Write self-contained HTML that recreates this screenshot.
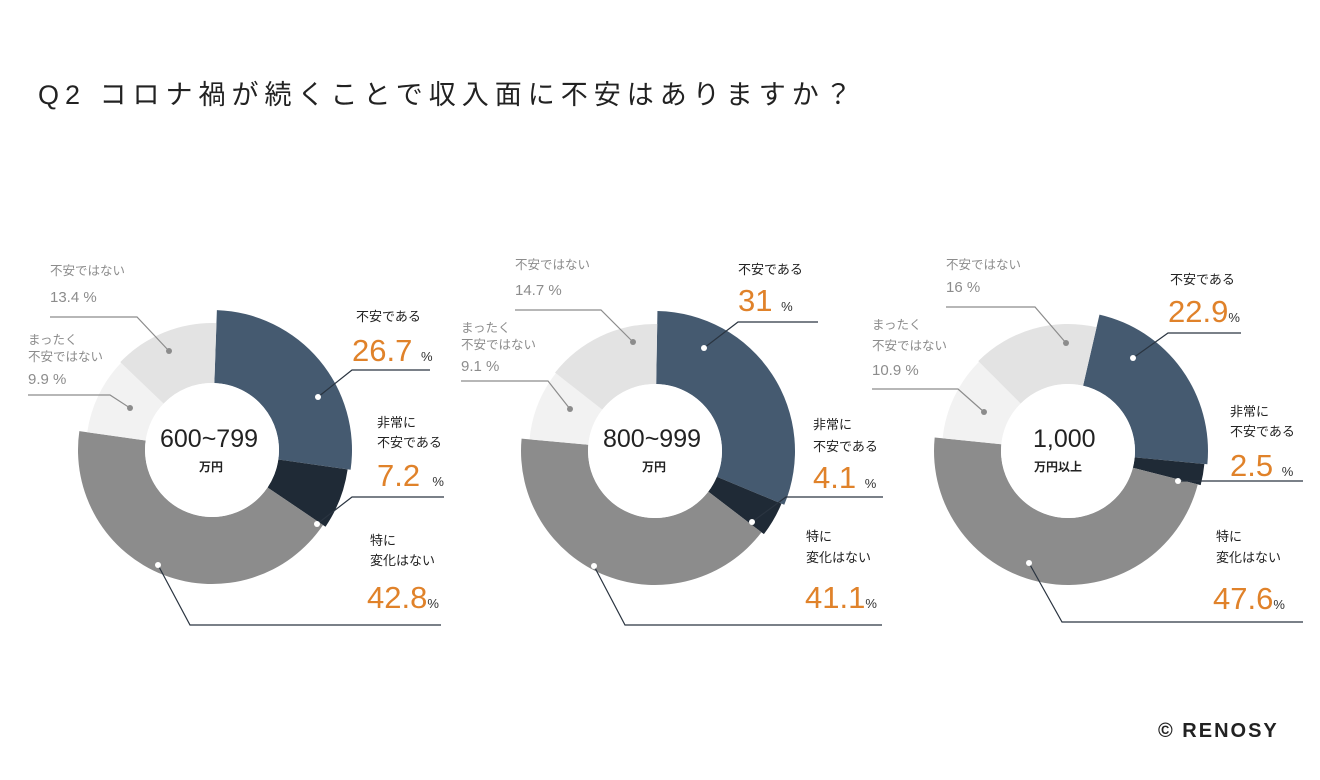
<!DOCTYPE html>
<html><head><meta charset="utf-8">
<style>
body{margin:0;width:1320px;height:780px;background:#fff;position:relative;overflow:hidden;font-family:"Liberation Sans","Noto Sans CJK JP",sans-serif;}
.t{position:absolute;white-space:nowrap;line-height:1;}
.g{color:#8c8c8c;font-size:12.5px;}
.gn{color:#8c8c8c;font-size:15px;}
.d{color:#222;font-size:13px;}
.o{color:#e0822a;font-size:31px;}
.o span{color:#333;font-size:13px;}
svg{position:absolute;left:0;top:0;}
</style></head><body>
<div class="t" style="left:38px;top:82px;font-size:27px;color:#222;letter-spacing:6px;">Q2 コロナ禍が続くことで収入面に不安はありますか？</div>
<svg id="s" width="1320" height="780"></svg>

<div class="t g" style="left:50px;top:265px">不安ではない</div>
<div class="t gn" style="left:50px;top:290px">13.4 %</div>
<div class="t g" style="left:28px;top:334px">まったく</div>
<div class="t g" style="left:28px;top:351px">不安ではない</div>
<div class="t gn" style="left:28px;top:372px">9.9 %</div>
<div class="t d" style="left:356px;top:310px">不安である</div>
<div class="t o" style="left:352px;top:335px">26.7 <span>%</span></div>
<div class="t d" style="left:377px;top:416px">非常に</div>
<div class="t d" style="left:377px;top:436px">不安である</div>
<div class="t o" style="left:377px;top:460px">7.2 <span>&nbsp;%</span></div>
<div class="t d" style="left:370px;top:534px">特に</div>
<div class="t d" style="left:370px;top:554px">変化はない</div>
<div class="t o" style="left:367px;top:582px">42.8<span>%</span></div>
<div class="t" style="left:160px;top:427px;font-size:25px;color:#222;">600~799</div>
<div class="t" style="left:199px;top:461px;font-size:12px;color:#222;font-weight:bold;">万円</div>

<div class="t g" style="left:515px;top:259px">不安ではない</div>
<div class="t gn" style="left:515px;top:283px">14.7 %</div>
<div class="t g" style="left:461px;top:322px">まったく</div>
<div class="t g" style="left:461px;top:339px">不安ではない</div>
<div class="t gn" style="left:461px;top:359px">9.1 %</div>
<div class="t d" style="left:738px;top:263px">不安である</div>
<div class="t o" style="left:738px;top:285px">31 <span>%</span></div>
<div class="t d" style="left:813px;top:418px">非常に</div>
<div class="t d" style="left:813px;top:440px">不安である</div>
<div class="t o" style="left:813px;top:462px">4.1 <span>%</span></div>
<div class="t d" style="left:806px;top:530px">特に</div>
<div class="t d" style="left:806px;top:551px">変化はない</div>
<div class="t o" style="left:805px;top:582px">41.1<span>%</span></div>
<div class="t" style="left:603px;top:427px;font-size:25px;color:#222;">800~999</div>
<div class="t" style="left:642px;top:461px;font-size:12px;color:#222;font-weight:bold;">万円</div>

<div class="t g" style="left:946px;top:259px">不安ではない</div>
<div class="t gn" style="left:946px;top:280px">16 %</div>
<div class="t g" style="left:872px;top:319px">まったく</div>
<div class="t g" style="left:872px;top:340px">不安ではない</div>
<div class="t gn" style="left:872px;top:363px">10.9 %</div>
<div class="t d" style="left:1170px;top:273px">不安である</div>
<div class="t o" style="left:1168px;top:296px">22.9<span>%</span></div>
<div class="t d" style="left:1230px;top:405px">非常に</div>
<div class="t d" style="left:1230px;top:425px">不安である</div>
<div class="t o" style="left:1230px;top:450px">2.5 <span>%</span></div>
<div class="t d" style="left:1216px;top:530px">特に</div>
<div class="t d" style="left:1216px;top:551px">変化はない</div>
<div class="t o" style="left:1213px;top:583px">47.6<span>%</span></div>
<div class="t" style="left:1033px;top:427px;font-size:25px;color:#222;">1,000</div>
<div class="t" style="left:1034px;top:461px;font-size:12px;color:#222;font-weight:bold;">万円以上</div>

<div class="t" style="left:1158px;top:721px;font-size:20px;color:#222;font-weight:bold;letter-spacing:2px;">© RENOSY</div>

<script>
var s=document.getElementById('s');
var cols=['#455a70','#1f2a36','#8c8c8c','#f2f2f2','#e3e3e3'];
var rs=[140,137,134,126,127];
function donut(cx,cy,vals,start){
  var a=start,h='';
  for(var i=0;i<5;i++){
    var a2=a+vals[i]*3.6,r=rs[i],ri=67;
    function p(ang,R){var t=(ang-90)*Math.PI/180;return (cx+R*Math.cos(t)).toFixed(2)+' '+(cy+R*Math.sin(t)).toFixed(2);}
    var lg=(a2-a)>180?1:0;
    h+='<path fill="'+cols[i]+'" d="M'+p(a,r)+' A'+r+' '+r+' 0 '+lg+' 1 '+p(a2,r)+' L'+p(a2,ri)+' A'+ri+' '+ri+' 0 '+lg+' 0 '+p(a,ri)+'Z"/>';
    a=a2;
  }
  h+='<circle cx="'+cx+'" cy="'+cy+'" r="67" fill="#fff"/>';
  return h;
}
function ln(pts,c,dot,dc){
  var h='<polyline fill="none" stroke="'+c+'" stroke-width="1.2" points="'+pts+'"/>';
  h+='<circle cx="'+dot[0]+'" cy="'+dot[1]+'" r="3" fill="'+dc+'"/>';return h;
}
var h='';
h+=donut(212,450,[26.7,7.2,42.8,9.9,13.4],2);
h+=donut(655,451,[31,4.1,41.1,9.1,14.7],1);
h+=donut(1068,451,[22.9,2.5,47.6,10.9,16.1],13);
var G='#8c8c8c',D='#2a3440';
h+=ln('50,317 137,317 169,351',G,[169,351],G);
h+=ln('28,395 110,395 130,408',G,[130,408],G);
h+=ln('430,370 352,370 318,397',D,[318,397],'#fff');
h+=ln('444,497 352,497 317,524',D,[317,524],'#fff');
h+=ln('441,625 190,625 158,565',D,[158,565],'#fff');
h+=ln('515,310 601,310 633,342',G,[633,342],G);
h+=ln('461,381 548,381 570,409',G,[570,409],G);
h+=ln('818,322 738,322 704,348',D,[704,348],'#fff');
h+=ln('883,497 786,497 752,522',D,[752,522],'#fff');
h+=ln('882,625 625,625 594,566',D,[594,566],'#fff');
h+=ln('946,307 1035,307 1066,343',G,[1066,343],G);
h+=ln('872,389 958,389 984,412',G,[984,412],G);
h+=ln('1241,333 1168,333 1133,358',D,[1133,358],'#fff');
h+=ln('1303,481 1178,481',D,[1178,481],'#fff');
h+=ln('1303,622 1062,622 1029,563',D,[1029,563],'#fff');
s.innerHTML=h;
</script>
</body></html>
